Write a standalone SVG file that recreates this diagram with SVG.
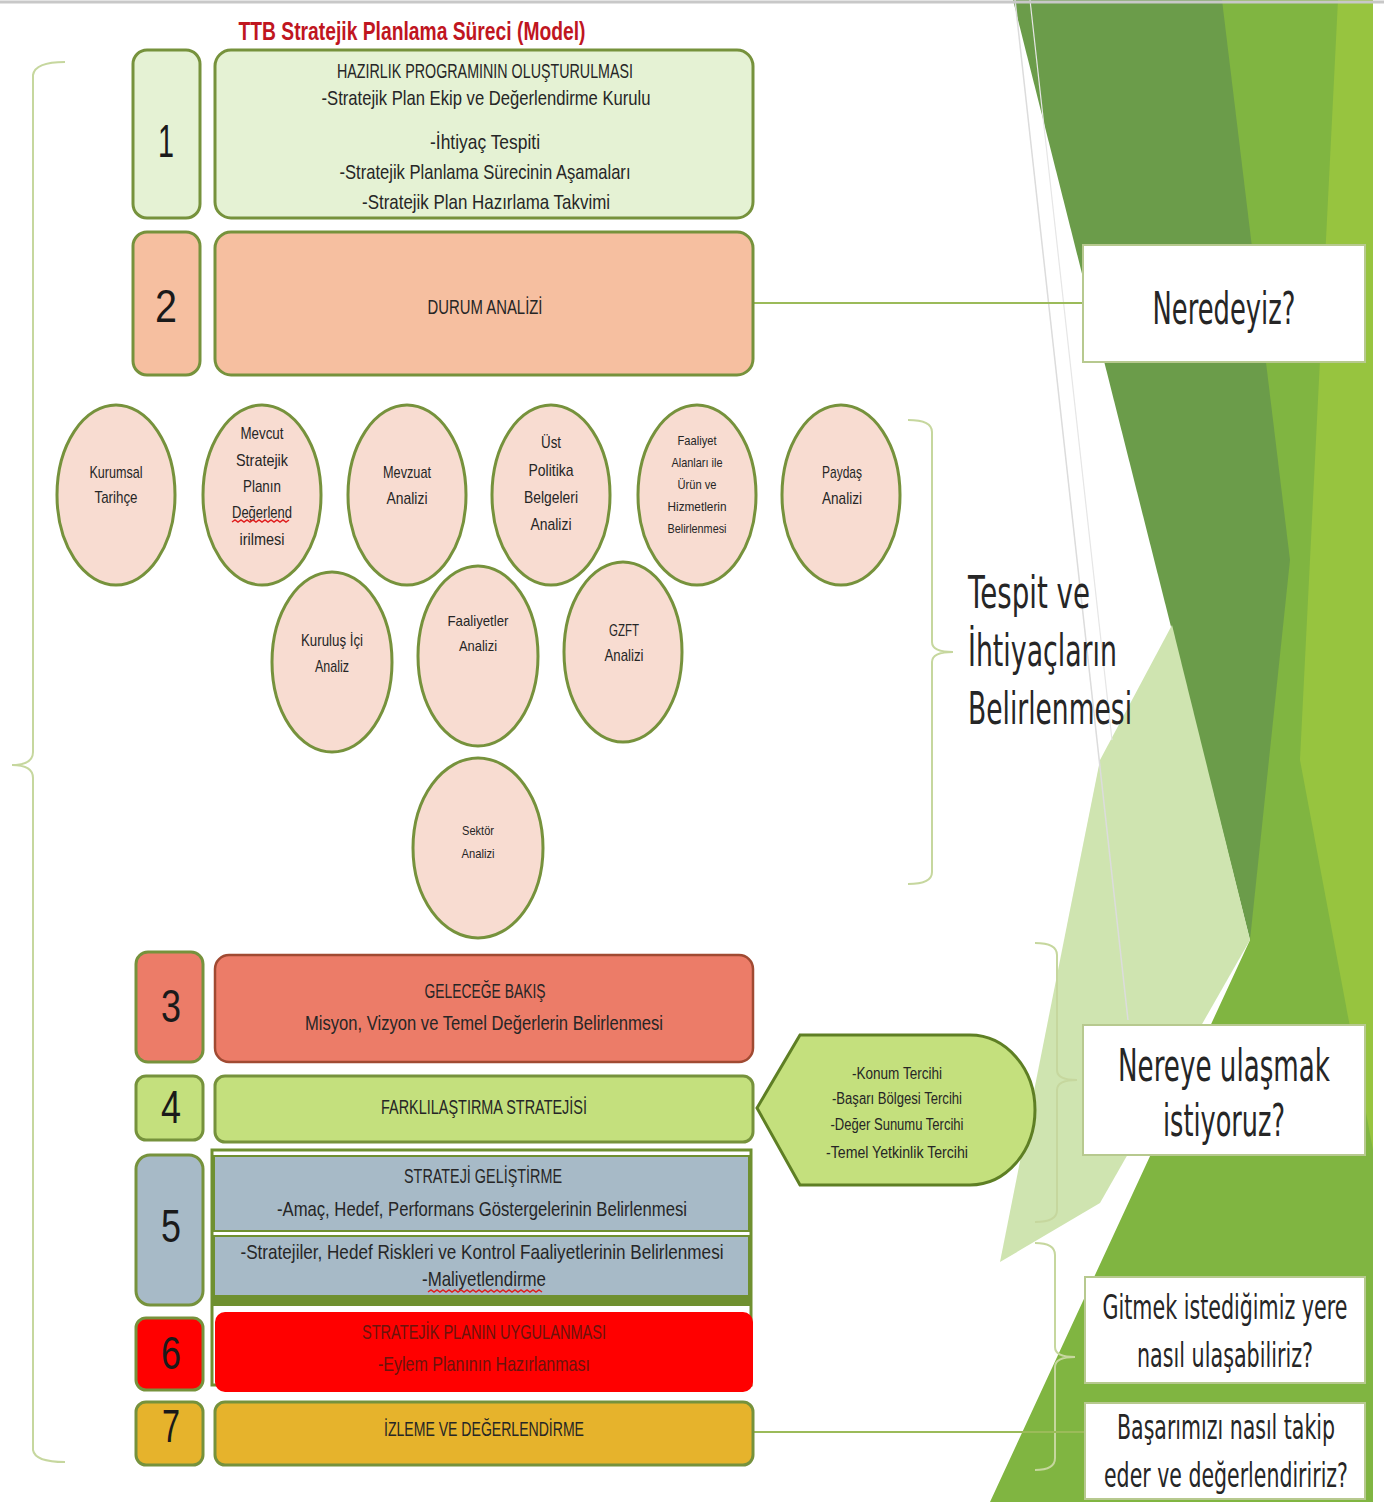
<svg xmlns="http://www.w3.org/2000/svg" width="1384" height="1502" viewBox="0 0 1384 1502">
<defs>
<style>
.t{font-family:"Liberation Sans",Arial,sans-serif;fill:#262626;text-anchor:middle}
.bx{font-size:21px}
.num{font-size:46px;fill:#1a1a1a}
.ci{font-size:17px}
.q{font-family:"DejaVu Sans","Liberation Sans",sans-serif;fill:#262626;font-size:44px}
.qm{text-anchor:middle}
.nb{stroke:#76923c;stroke-width:3}
.el{fill:#f8dcd1;stroke:#76923c;stroke-width:3}
.lab{fill:#ffffff;stroke:#b7c98f;stroke-width:2}
.br{fill:none;stroke:#c6d79e;stroke-width:2}
.cn{stroke:#9bbb59;stroke-width:2;fill:none}
.sq{fill:none;stroke:#e02020;stroke-width:1.5}
</style>
</defs>
<rect x="0" y="0" width="1384" height="1502" fill="#ffffff"/>
<g id="background">
<polygon points="1220,0 1373,0 1373,1502 990,1502 1250,940" fill="#80b541"/>
<polygon points="1338,0 1373,0 1373,1150 1300,760" fill="#97c43f"/>
<polygon points="1013,0 1222,0 1290,560 1250,940" fill="#6b9c4a"/>
<polygon points="1172,625 1250,940 1100,1203 1000,1262 1068,920 1100,760" fill="#cfe4b0"/>
<line x1="1015" y1="0" x2="1128" y2="1020" stroke="#dcdcdc" stroke-width="1.5"/>
<line x1="1030" y1="0" x2="1112" y2="740" stroke="#e6e6e6" stroke-width="1.2"/>
<line x1="0" y1="2" x2="1384" y2="2" stroke="#c8c8c8" stroke-width="3"/>
</g>
<text x="412" y="40" class="t" style="font-size:25px;font-weight:bold;fill:#c0161f" textLength="347" lengthAdjust="spacingAndGlyphs">TTB Stratejik Planlama Süreci (Model)</text>
<g id="braces">
<path class="br" d="M65,62 Q35,62 33,75 L33,752 Q33,765 12,765 Q33,765 33,778 L33,1450 Q35,1462 65,1462"/>
<path class="br" d="M908,420 Q932,420 932,432 L932,642 Q932,652 953,652 Q932,652 932,662 L932,872 Q932,884 908,884"/>
<path class="br" d="M1035,943 Q1057,943 1057,955 L1057,1070 Q1057,1080 1077,1080 Q1057,1080 1057,1090 L1057,1210 Q1057,1222 1035,1222"/>
<path class="br" d="M1035,1243 Q1055,1243 1055,1255 L1055,1347 Q1055,1357 1075,1357 Q1055,1357 1055,1367 L1055,1458 Q1055,1470 1035,1470"/>
</g>
<g id="connectors">
<line class="cn" x1="753" y1="303" x2="1083" y2="303"/>
<line class="cn" x1="753" y1="1432" x2="1085" y2="1432"/>
</g>
<g id="step1">
<rect x="133" y="50" width="67" height="168" rx="14" fill="#e5f2d4" class="nb"/>
<text x="166" y="157" class="t num" textLength="16" lengthAdjust="spacingAndGlyphs">1</text>
<rect x="215" y="50" width="538" height="168" rx="16" fill="#e5f2d4" class="nb"/>
<text class="t bx" x="485" y="78" textLength="296" lengthAdjust="spacingAndGlyphs">HAZIRLIK PROGRAMININ OLUŞTURULMASI</text>
<text class="t bx" x="486" y="105" textLength="329" lengthAdjust="spacingAndGlyphs">-Stratejik Plan Ekip ve Değerlendirme Kurulu</text>
<text class="t bx" x="485" y="149" textLength="110" lengthAdjust="spacingAndGlyphs">-İhtiyaç Tespiti</text>
<text class="t bx" x="485" y="179" textLength="291" lengthAdjust="spacingAndGlyphs">-Stratejik Planlama Sürecinin Aşamaları</text>
<text class="t bx" x="486" y="209" textLength="248" lengthAdjust="spacingAndGlyphs">-Stratejik Plan Hazırlama Takvimi</text>
</g>
<g id="step2">
<rect x="133" y="232" width="67" height="143" rx="14" fill="#f6bfa0" class="nb"/>
<text x="166" y="322" class="t num" textLength="22" lengthAdjust="spacingAndGlyphs">2</text>
<rect x="215" y="232" width="538" height="143" rx="16" fill="#f6bfa0" class="nb"/>
<text class="t bx" x="485" y="314" textLength="115" lengthAdjust="spacingAndGlyphs">DURUM ANALİZİ</text>
</g>
<g id="c-kurumsal">
<ellipse cx="116" cy="495" rx="59" ry="90" class="el"/>
<text class="t ci" x="116" y="478" textLength="53" lengthAdjust="spacingAndGlyphs">Kurumsal</text>
<text class="t ci" x="116" y="503" textLength="43" lengthAdjust="spacingAndGlyphs">Tarihçe</text>
</g>
<g id="c-mevcut">
<ellipse cx="262" cy="495" rx="59" ry="90" class="el"/>
<text class="t ci" x="262" y="439" textLength="43" lengthAdjust="spacingAndGlyphs">Mevcut</text>
<text class="t ci" x="262" y="466" textLength="52" lengthAdjust="spacingAndGlyphs">Stratejik</text>
<text class="t ci" x="262" y="492" textLength="38" lengthAdjust="spacingAndGlyphs">Planın</text>
<text class="t ci" x="262" y="518" textLength="60" lengthAdjust="spacingAndGlyphs">Değerlend</text>
<path class="sq" d="M232,522 l3,-2 l3,2 l3,-2 l3,2 l3,-2 l3,2 l3,-2 l3,2 l3,-2 l3,2 l3,-2 l3,2 l3,-2 l3,2 l3,-2 l3,2 l3,-2 l3,2 l3,-2"/>
<text class="t ci" x="262" y="545" textLength="45" lengthAdjust="spacingAndGlyphs">irilmesi</text>
</g>
<g id="c-mevzuat">
<ellipse cx="407" cy="495" rx="59" ry="90" class="el"/>
<text class="t ci" x="407" y="478" textLength="48" lengthAdjust="spacingAndGlyphs">Mevzuat</text>
<text class="t ci" x="407" y="504" textLength="41" lengthAdjust="spacingAndGlyphs">Analizi</text>
</g>
<g id="c-ust">
<ellipse cx="551" cy="495" rx="59" ry="90" class="el"/>
<text class="t ci" x="551" y="448" textLength="20" lengthAdjust="spacingAndGlyphs">Üst</text>
<text class="t ci" x="551" y="476" textLength="45" lengthAdjust="spacingAndGlyphs">Politika</text>
<text class="t ci" x="551" y="503" textLength="54" lengthAdjust="spacingAndGlyphs">Belgeleri</text>
<text class="t ci" x="551" y="530" textLength="41" lengthAdjust="spacingAndGlyphs">Analizi</text>
</g>
<g id="c-faaliyet">
<ellipse cx="697" cy="495" rx="59" ry="90" class="el"/>
<text class="t" style="font-size:13px" x="697" y="445" textLength="39" lengthAdjust="spacingAndGlyphs">Faaliyet</text>
<text class="t" style="font-size:13px" x="697" y="467" textLength="51" lengthAdjust="spacingAndGlyphs">Alanları ile</text>
<text class="t" style="font-size:13px" x="697" y="489" textLength="39" lengthAdjust="spacingAndGlyphs">Ürün ve</text>
<text class="t" style="font-size:13px" x="697" y="511" textLength="59" lengthAdjust="spacingAndGlyphs">Hizmetlerin</text>
<text class="t" style="font-size:13px" x="697" y="533" textLength="59" lengthAdjust="spacingAndGlyphs">Belirlenmesi</text>
</g>
<g id="c-paydas">
<ellipse cx="841" cy="495" rx="59" ry="90" class="el"/>
<text class="t ci" x="842" y="478" textLength="40" lengthAdjust="spacingAndGlyphs">Paydaş</text>
<text class="t ci" x="842" y="504" textLength="40" lengthAdjust="spacingAndGlyphs">Analizi</text>
</g>
<g id="c-kurulus">
<ellipse cx="332" cy="662" rx="60" ry="90" class="el"/>
<text class="t ci" x="332" y="646" textLength="62" lengthAdjust="spacingAndGlyphs">Kuruluş İçi</text>
<text class="t ci" x="332" y="672" textLength="34" lengthAdjust="spacingAndGlyphs">Analiz</text>
</g>
<g id="c-faaliyetler">
<ellipse cx="478" cy="656" rx="60" ry="90" class="el"/>
<text class="t" style="font-size:15px" x="478" y="626" textLength="61" lengthAdjust="spacingAndGlyphs">Faaliyetler</text>
<text class="t" style="font-size:15px" x="478" y="651" textLength="38" lengthAdjust="spacingAndGlyphs">Analizi</text>
</g>
<g id="c-gzft">
<ellipse cx="623" cy="652" rx="59" ry="90" class="el"/>
<text class="t ci" x="624" y="636" textLength="30" lengthAdjust="spacingAndGlyphs">GZFT</text>
<text class="t ci" x="624" y="661" textLength="39" lengthAdjust="spacingAndGlyphs">Analizi</text>
</g>
<g id="c-sektor">
<ellipse cx="478" cy="848" rx="65" ry="90" class="el"/>
<text class="t" style="font-size:13px" x="478" y="835" textLength="32" lengthAdjust="spacingAndGlyphs">Sektör</text>
<text class="t" style="font-size:13px" x="478" y="858" textLength="33" lengthAdjust="spacingAndGlyphs">Analizi</text>
</g>
<g id="step3">
<rect x="136" y="952" width="67" height="110" rx="12" fill="#ec7c68" class="nb"/>
<text x="171" y="1022" class="t num" textLength="20" lengthAdjust="spacingAndGlyphs">3</text>
<rect x="215" y="955" width="538" height="107" rx="14" fill="#ec7c68" stroke="#a04a32" stroke-width="2.5"/>
<text class="t bx" x="485" y="998" textLength="121" lengthAdjust="spacingAndGlyphs">GELECEĞE BAKIŞ</text>
<text class="t bx" x="484" y="1030" textLength="358" lengthAdjust="spacingAndGlyphs">Misyon, Vizyon ve Temel Değerlerin Belirlenmesi</text>
</g>
<g id="step4">
<rect x="136" y="1076" width="67" height="64" rx="10" fill="#c4e07d" class="nb"/>
<text x="171" y="1123" class="t num" textLength="20" lengthAdjust="spacingAndGlyphs">4</text>
<rect x="215" y="1076" width="538" height="66" rx="10" fill="#c4e07d" class="nb"/>
<text class="t bx" x="484" y="1114" textLength="206" lengthAdjust="spacingAndGlyphs">FARKLILAŞTIRMA STRATEJİSİ</text>
</g>
<g id="choices">
<path d="M757,1108 L800,1035 L970,1035 A65,75 0 0 1 970,1185 L800,1185 Z" fill="#c4e07d" stroke="#5e7f24" stroke-width="3"/>
<text class="t" style="font-size:16px" x="897" y="1079" textLength="90" lengthAdjust="spacingAndGlyphs">-Konum Tercihi</text>
<text class="t" style="font-size:16px" x="897" y="1104" textLength="130" lengthAdjust="spacingAndGlyphs">-Başarı Bölgesi Tercihi</text>
<text class="t" style="font-size:16px" x="897" y="1130" textLength="133" lengthAdjust="spacingAndGlyphs">-Değer Sunumu Tercihi</text>
<text class="t" style="font-size:16px" x="897" y="1158" textLength="142" lengthAdjust="spacingAndGlyphs">-Temel Yetkinlik Tercihi</text>
</g>
<g id="step5">
<rect x="136" y="1155" width="67" height="150" rx="14" fill="#a7bac7" class="nb"/>
<text x="171" y="1242" class="t num" textLength="20" lengthAdjust="spacingAndGlyphs">5</text>
<rect x="212" y="1150" width="539" height="235" fill="none" stroke="#6f9030" stroke-width="3"/>
<rect x="214" y="1156" width="535" height="75" fill="#a7bac7" stroke="#6f9030" stroke-width="2"/>
<rect x="214" y="1236" width="535" height="60" fill="#a7bac7" stroke="#6f9030" stroke-width="2"/>
<rect x="212" y="1296" width="539" height="10" fill="#6f9030"/>
<text class="t bx" x="483" y="1183" textLength="158" lengthAdjust="spacingAndGlyphs">STRATEJİ GELİŞTİRME</text>
<text class="t bx" x="482" y="1216" textLength="410" lengthAdjust="spacingAndGlyphs">-Amaç, Hedef, Performans Göstergelerinin Belirlenmesi</text>
<text class="t bx" x="482" y="1259" textLength="483" lengthAdjust="spacingAndGlyphs">-Stratejiler, Hedef Riskleri ve Kontrol Faaliyetlerinin Belirlenmesi</text>
<text class="t bx" x="484" y="1286" textLength="124" lengthAdjust="spacingAndGlyphs">-Maliyetlendirme</text>
<path class="sq" d="M428,1292 l3,-2 l3,2 l3,-2 l3,2 l3,-2 l3,2 l3,-2 l3,2 l3,-2 l3,2 l3,-2 l3,2 l3,-2 l3,2 l3,-2 l3,2 l3,-2 l3,2 l3,-2 l3,2 l3,-2 l3,2 l3,-2 l3,2 l3,-2 l3,2 l3,-2 l3,2 l3,-2 l3,2 l3,-2 l3,2 l3,-2 l3,2 l3,-2 l3,2 l3,-2 l3,2"/>
</g>
<g id="step6">
<rect x="136" y="1318" width="67" height="72" rx="10" fill="#ff0000" class="nb"/>
<text x="171" y="1369" class="t num" textLength="20" lengthAdjust="spacingAndGlyphs">6</text>
<rect x="215" y="1312" width="538" height="80" rx="10" fill="#ff0000"/>
<text class="t bx" x="484" y="1339" style="fill:#6a140c" textLength="244" lengthAdjust="spacingAndGlyphs">STRATEJİK PLANIN UYGULANMASI</text>
<text class="t bx" x="484" y="1371" style="fill:#6a140c" textLength="212" lengthAdjust="spacingAndGlyphs">-Eylem Planının Hazırlanması</text>
</g>
<g id="step7">
<rect x="136" y="1402" width="67" height="63" rx="10" fill="#e6b32c" class="nb"/>
<text x="171" y="1442" class="t num" textLength="18" lengthAdjust="spacingAndGlyphs">7</text>
<rect x="215" y="1402" width="538" height="63" rx="10" fill="#e6b32c" class="nb"/>
<text class="t bx" x="484" y="1436" textLength="200" lengthAdjust="spacingAndGlyphs">İZLEME VE DEĞERLENDİRME</text>
</g>
<g id="tespit">
<text class="q" transform="translate(968,608) scale(0.58,1)" x="0" y="0" textLength="210.3" lengthAdjust="spacingAndGlyphs">Tespit ve</text>
<text class="q" transform="translate(968,666) scale(0.58,1)" x="0" y="0" textLength="256.9" lengthAdjust="spacingAndGlyphs">İhtiyaçların</text>
<text class="q" transform="translate(968,724) scale(0.58,1)" x="0" y="0" textLength="282.8" lengthAdjust="spacingAndGlyphs">Belirlenmesi</text>
</g>
<g id="q-neredeyiz">
<rect x="1083" y="245" width="282" height="117" class="lab"/>
<text class="q qm" transform="translate(1224,324) scale(0.58,1)" x="0" y="0" textLength="246.6" lengthAdjust="spacingAndGlyphs">Neredeyiz?</text>
</g>
<g id="q-nereye">
<rect x="1083" y="1025" width="282" height="130" class="lab"/>
<text class="q qm" transform="translate(1224,1081) scale(0.58,1)" x="0" y="0" textLength="365.5" lengthAdjust="spacingAndGlyphs">Nereye ulaşmak</text>
<text class="q qm" transform="translate(1224,1136) scale(0.58,1)" x="0" y="0" textLength="210.3" lengthAdjust="spacingAndGlyphs">istiyoruz?</text>
</g>
<g id="q-gitmek">
<rect x="1085" y="1277" width="280" height="106" class="lab"/>
<text class="q qm" style="font-size:33px" transform="translate(1225,1319) scale(0.58,1)" x="0" y="0" textLength="422.4" lengthAdjust="spacingAndGlyphs">Gitmek istediğimiz yere</text>
<text class="q qm" style="font-size:33px" transform="translate(1225,1367) scale(0.58,1)" x="0" y="0" textLength="303.4" lengthAdjust="spacingAndGlyphs">nasıl ulaşabiliriz?</text>
</g>
<g id="q-basari">
<rect x="1085" y="1403" width="280" height="96" class="lab"/>
<text class="q qm" style="font-size:33px" transform="translate(1226,1439) scale(0.58,1)" x="0" y="0" textLength="375.9" lengthAdjust="spacingAndGlyphs">Başarımızı nasıl takip</text>
<text class="q qm" style="font-size:33px" transform="translate(1226,1487) scale(0.58,1)" x="0" y="0" textLength="420.7" lengthAdjust="spacingAndGlyphs">eder ve değerlendiririz?</text>
</g>
</svg>
